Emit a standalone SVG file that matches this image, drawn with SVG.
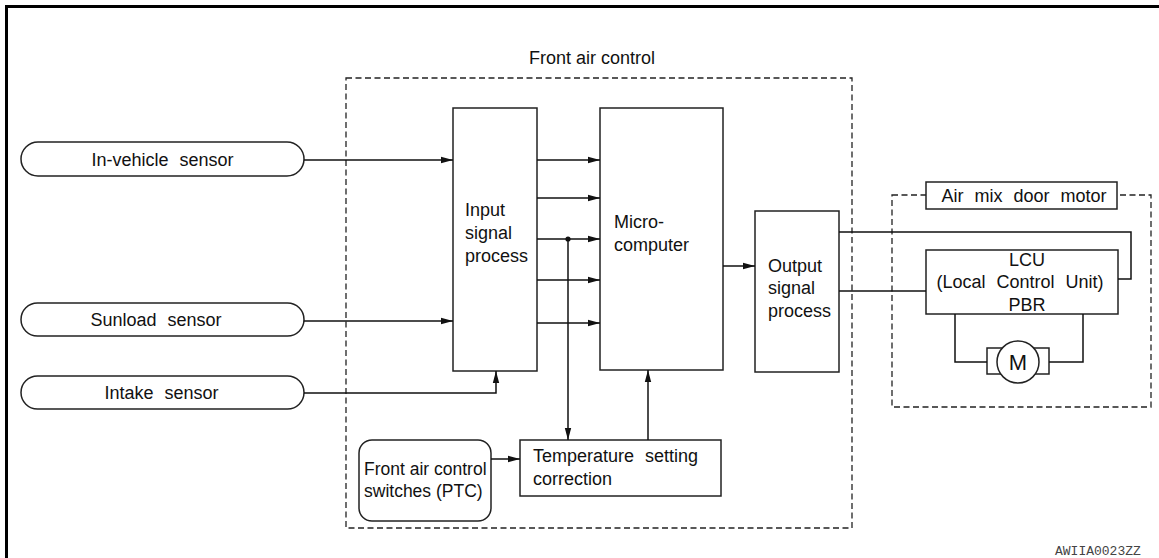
<svg xmlns="http://www.w3.org/2000/svg" width="1159" height="558" viewBox="0 0 1159 558">
<defs>
<style>
.t{font-family:"Liberation Sans",Arial,sans-serif;font-size:18px;fill:#111}
.ws{word-spacing:6px}
.box{fill:#fff;stroke:#222;stroke-width:1.5}
.dash{fill:none;stroke:#222;stroke-width:1.3;stroke-dasharray:6 3.5}
.ln{fill:none;stroke:#111;stroke-width:1.5}
.code{font-family:"Liberation Mono","Courier New",monospace;font-size:13px;fill:#444}
</style>
<marker id="ah" markerUnits="userSpaceOnUse" markerWidth="12" markerHeight="8" refX="12" refY="4" orient="auto">
<path d="M0,0.8 L12,4 L0,7.2 z" fill="#111"/>
</marker>
</defs>
<rect width="1159" height="558" fill="#fff"/>
<path d="M6.5,558 V6.5 H1159" fill="none" stroke="#000" stroke-width="3"/>

<g id="front-air-control">
<rect class="dash" x="346" y="78" width="506" height="450"/>
<text class="t" x="592" y="64" text-anchor="middle">Front air control</text>
</g>

<g id="in-vehicle-sensor">
<rect class="box" x="21" y="142" width="283" height="34" rx="17"/>
<text class="t ws" x="162.5" y="166" text-anchor="middle">In-vehicle sensor</text>
</g>
<g id="sunload-sensor">
<rect class="box" x="21" y="303" width="283" height="33" rx="16.5"/>
<text class="t ws" x="156" y="325.5" text-anchor="middle">Sunload sensor</text>
</g>
<g id="intake-sensor">
<rect class="box" x="21" y="376" width="283" height="33" rx="16.5"/>
<text class="t ws" x="161.5" y="398.5" text-anchor="middle">Intake sensor</text>
</g>

<g id="input-signal-process">
<rect class="box" x="453" y="108" width="84" height="263"/>
<text class="t" x="465" y="216">Input</text>
<text class="t" x="465" y="239">signal</text>
<text class="t" x="465" y="262">process</text>
</g>

<g id="micro-computer">
<rect class="box" x="600" y="108" width="123" height="262"/>
<text class="t" x="614" y="228">Micro-</text>
<text class="t" x="614" y="251">computer</text>
</g>

<g id="output-signal-process">
<rect class="box" x="755" y="211" width="84" height="161"/>
<text class="t" x="768" y="272">Output</text>
<text class="t" x="768" y="294">signal</text>
<text class="t" x="768" y="317">process</text>
</g>

<g id="temperature-setting-correction">
<rect class="box" x="520" y="440" width="201" height="56"/>
<text class="t ws" x="533" y="462">Temperature setting</text>
<text class="t" x="533" y="485">correction</text>
</g>

<g id="front-air-control-switches">
<rect class="box" x="359" y="440" width="132" height="81" rx="13"/>
<text class="t" x="364" y="475" style="font-size:17.5px">Front air control</text>
<text class="t" x="364" y="497" style="font-size:17.5px">switches (PTC)</text>
</g>

<g id="air-mix-door-motor">
<rect class="dash" x="892" y="195" width="259" height="212"/>
<rect class="box" x="926" y="182" width="191" height="27"/>
<text class="t ws" x="1024" y="202" text-anchor="middle">Air mix door motor</text>
</g>

<g id="lcu">
<rect class="box" x="926" y="250" width="192" height="64"/>
<text class="t" x="1027" y="266" text-anchor="middle">LCU</text>
<text class="t ws" x="1020" y="288" text-anchor="middle">(Local Control Unit)</text>
<text class="t" x="1027" y="311" text-anchor="middle">PBR</text>
</g>

<g id="motor">
<rect class="box" x="987" y="348" width="62" height="26"/>
<circle cx="1018" cy="362" r="21" fill="#fff" stroke="#222" stroke-width="1.5"/>
<text class="t" x="1018" y="370" text-anchor="middle" style="font-size:22px">M</text>
</g>

<g id="connectors">
<path class="ln" d="M304,160 H453" marker-end="url(#ah)"/>
<path class="ln" d="M304,321 H453" marker-end="url(#ah)"/>
<path class="ln" d="M304,393 H496 V371" marker-end="url(#ah)"/>
<path class="ln" d="M537,160 H600" marker-end="url(#ah)"/>
<path class="ln" d="M537,198 H600" marker-end="url(#ah)"/>
<path class="ln" d="M537,239 H600" marker-end="url(#ah)"/>
<path class="ln" d="M537,280 H600" marker-end="url(#ah)"/>
<path class="ln" d="M537,323 H600" marker-end="url(#ah)"/>
<circle cx="568" cy="239" r="2.6" fill="#111"/>
<path class="ln" d="M568,239 V440" marker-end="url(#ah)"/>
<path class="ln" d="M648,440 V370" marker-end="url(#ah)"/>
<path class="ln" d="M491,459 H520" marker-end="url(#ah)"/>
<path class="ln" d="M723,266 H755" marker-end="url(#ah)"/>
<path class="ln" d="M839,232 H1131 V279 H1118"/>
<path class="ln" d="M839,291 H926"/>
<path class="ln" d="M955,314 V362 H987"/>
<path class="ln" d="M1049,362 H1083 V314"/>
</g>

<text class="code" x="1055" y="555">AWIIA0023ZZ</text>
</svg>
